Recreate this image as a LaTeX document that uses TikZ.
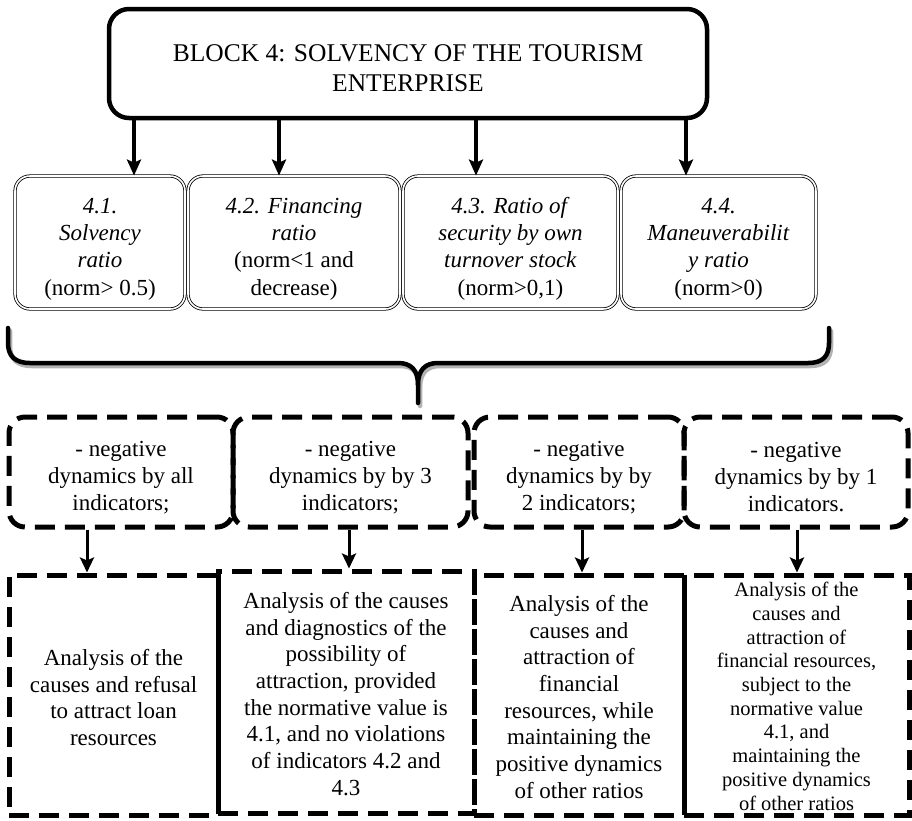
\documentclass[tikz,border=0pt]{standalone}
\usepackage{fontspec}
\setmainfont{Liberation Serif}
\usetikzlibrary{arrows.meta}
\newcommand\tgap[1]{\rule{0pt}{#1}}
\begin{document}
\begin{tikzpicture}[x=1pt,y=-1pt,
  txt/.style={font=\fontsize{23}{26.7}\selectfont, align=center, inner sep=0pt},
  topbox/.style={draw, line width=4.5pt, rounded corners=20pt, minimum width=598pt, minimum height=109pt, inner sep=0pt, font=\fontsize{25.5}{30}\selectfont, align=center},
  ratiobox/.style={draw, double, line width=0.8pt, double distance=1.6pt, rounded corners=15pt, inner sep=0pt, align=center, font=\fontsize{23}{27.3}\selectfont, minimum height=133pt},
  casebox/.style={draw, line width=5pt, dash pattern=on 20pt off 10pt, rounded corners=16pt, inner sep=0pt, txt, font=\fontsize{23}{27}\selectfont, minimum height=110pt},
  actbox/.style={draw, line width=5pt, dash pattern=on 20pt off 10pt, inner sep=0pt, txt, minimum height=240pt},
  bigarrow/.style={line width=4pt, -{Stealth[length=16pt,width=14pt,inset=3pt]}},
  smallarrow/.style={line width=3pt, -{Stealth[length=15pt,width=14pt,inset=3pt]}},
  bracestyle/.style={line width=4.5pt, line cap=round, line join=round},
]
\useasboundingbox (0,0) rectangle (912,820);

% top block
\node[topbox] (top) at (408,63.5) {\tgap{26pt}BLOCK 4: SOLVENCY OF THE TOURISM\\ENTERPRISE};

% ratio boxes
\node[ratiobox, minimum width=170pt] (a1) at (100,242.5) {\tgap{28pt}\textit{4.1.}\\\textit{Solvency}\\\textit{ratio}\\(norm> 0.5)};
\node[ratiobox, minimum width=212pt] (a2) at (294,242.5) {\tgap{28pt}\textit{4.2. Financing}\\\textit{ratio}\\(norm<1 and\\decrease)};
\node[ratiobox, minimum width=215pt] (a3) at (510.5,242.5) {\tgap{28pt}\textit{4.3. Ratio of}\\\textit{security by own}\\\textit{turnover stock}\\(norm>0,1)};
\node[ratiobox, minimum width=195pt] (a4) at (718.5,242.5) {\tgap{28pt}\textit{4.4.}\\\textit{Maneuverabilit}\\\textit{y ratio}\\(norm>0)};

\draw[bigarrow] ([xshift=-274pt]top.south) -- ([xshift=34pt]a1.north);
\draw[bigarrow] ([xshift=-129pt]top.south) -- ([xshift=-15pt]a2.north);
\draw[bigarrow] ([xshift=68pt]top.south) -- ([xshift=-34.5pt]a3.north);
\draw[bigarrow] ([xshift=278pt]top.south) -- ([xshift=-32.5pt]a4.north);

% brace (shadow then brace)
\begin{scope}[shift={(2,3)}]
\draw[bracestyle, black!30] (8,328) -- (8,343) .. controls (8,356) and (15,363) .. (30,363) -- (398,363) .. controls (411,363) and (418,370) .. (418,385) -- (418,403);
\draw[bracestyle, black!30] (418,385) .. controls (418,370) and (425,363) .. (438,363) -- (808,363) .. controls (823,363) and (829,356) .. (829,343) -- (829,328);
\end{scope}
\draw[bracestyle] (8,328) -- (8,343) .. controls (8,356) and (15,363) .. (30,363) -- (398,363) .. controls (411,363) and (418,370) .. (418,385) -- (418,403);
\draw[bracestyle] (418,385) .. controls (418,370) and (425,363) .. (438,363) -- (808,363) .. controls (823,363) and (829,356) .. (829,343) -- (829,328);

% case boxes
\node[casebox, minimum width=224pt] (c1) at (121,472) {\tgap{26pt}- negative\\dynamics by all\\indicators;};
\node[casebox, minimum width=235pt] (c2) at (350.5,472) {\tgap{26pt}- negative\\dynamics by by 3\\indicators;};
\node[casebox, minimum width=210pt] (c3) at (579,472) {\tgap{26pt}- negative\\dynamics by by\\2 indicators;};
\node[casebox, minimum width=224pt] (c4) at (796,472) {\tgap{26pt}- negative\\dynamics by by 1\\indicators.};

% action boxes
\node[actbox, minimum width=209pt] (d1) at (113.5,695) {\tgap{21pt}Analysis of the\\causes and refusal\\to attract loan\\resources};
\node[actbox, minimum width=256pt, minimum height=242pt] (d2) at (346,692) {\tgap{20pt}Analysis of the causes\\and diagnostics of the\\possibility of\\attraction, provided\\the normative value is\\4.1, and no violations\\of indicators 4.2 and\\4.3};
\node[actbox, minimum width=210pt] (d3) at (579,695) {\tgap{20pt}Analysis of the\\causes and\\attraction of\\financial\\resources, while\\maintaining the\\positive dynamics\\of other ratios};
\node[actbox, minimum width=225pt, font=\fontsize{20.5}{23.7}\selectfont] (d4) at (796.5,695) {\tgap{17pt}Analysis of the\\causes and\\attraction of\\financial resources,\\subject to the\\normative value\\4.1, and\\maintaining the\\positive dynamics\\of other ratios};

\draw[smallarrow] ([xshift=-34pt]c1.south) -- ([xshift=-26.5pt]d1.north);
\draw[smallarrow] ([xshift=-1.5pt]c2.south) -- ([xshift=3pt]d2.north);
\draw[smallarrow] ([xshift=3pt]c3.south) -- ([xshift=3pt]d3.north);
\draw[smallarrow] ([xshift=1pt]c4.south) -- ([xshift=0.5pt]d4.north);
\end{tikzpicture}
\end{document}
